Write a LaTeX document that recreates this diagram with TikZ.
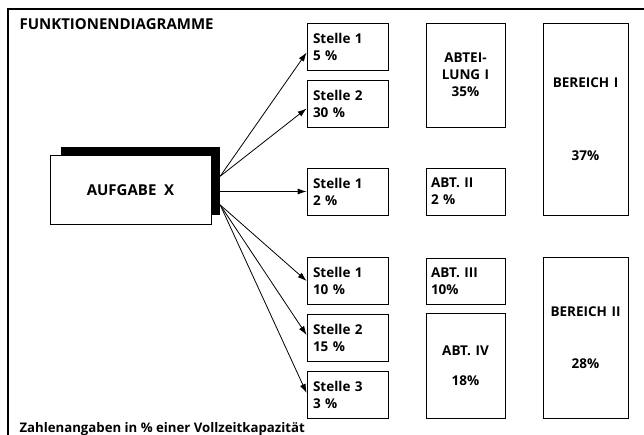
\documentclass[tikz,border=0pt]{standalone}
\usepackage{fontspec}
\setmainfont{Open Sans}
\usetikzlibrary{positioning,calc,arrows.meta}
\tikzset{%
  stellebox/.style={
    draw,
    thick,
    rectangle,
    minimum width=81pt,
    minimum height=47pt,
    text width=69pt,
    inner xsep=6pt,
    align=left
  },
  abtbox/.style={
    draw,
    thick,
    rectangle,
    minimum width=79pt,
    minimum height=47pt,
    text width=69pt,
    inner xsep=5pt,
    align=left
  },
  bereichbox/.style={
    draw,
    thick,
    rectangle,
    minimum width=85pt,
    text width=75pt,
    align=center
  },
}

\begin{document}
\begin{tikzpicture}[x=1pt,y=-1pt,>={Latex[length=9pt,width=6pt]},on grid,node distance=57pt,
    every node/.style={font=\fontsize{13.5}{17}\selectfont\bfseries}]
    \useasboundingbox (0,0) rectangle (644,435);
    % rahmen
    \draw[line width=1.4pt] (8,435) -- (8,9) -- (644,9);
    \node[anchor=base west, font=\fontsize{15}{17}\selectfont\bfseries] (titel) at (16,30) {FUNKTIONENDIAGRAMME};
    \node[anchor=base west, font=\fontsize{13.2}{16}\selectfont\bfseries] (fuss) at (16,432) {Zahlenangaben in \% einer Vollzeitkapazität};

    % aufgabe
    \node[fill=black, minimum width=159pt, minimum height=68pt] (schatten) at (140.5,181) {};
    \node[draw, thick, fill=white, minimum width=161pt, minimum height=69pt,
          font=\fontsize{15}{17}\selectfont\bfseries] (aufgabe) [below left=9pt and 10pt of schatten] {AUFGABE\ \ X};

    % stellen
    \node[stellebox] (s1) at (347.5,46.5) {Stelle 1\\5 \%};
    \node[stellebox] (s2) [below=of s1] {Stelle 2\\30 \%};
    \node[stellebox] (s3) at (347.5,191.5) {Stelle 1\\2 \%};
    \node[stellebox] (s4) at (347.5,281) {Stelle 1\\10 \%};
    \node[stellebox] (s5) [below=of s4] {Stelle 2\\15 \%};
    \node[stellebox] (s6) [below=of s5] {Stelle 3\\3 \%};

    % abteilungen
    \node[abtbox, minimum height=104pt, align=center] (a1) at (465.5,75) {ABTEI-\\LUNG I\\35\%};
    \node[abtbox] (a2) [right=118pt of s3] {ABT. II\\2 \%};
    \node[abtbox, minimum height=46pt] (a3) [right=118pt of s4] {ABT. III\\10\%};
    \node[abtbox, minimum height=105pt, align=center] (a4) at (465.5,365.5) {ABT. IV\\[13pt]18\%};

    % bereiche
    \node[bereichbox, minimum height=192pt] (b1) at (585.5,119) {BEREICH I\\[56pt]37\%};
    \node[bereichbox, minimum height=161pt] (b2) at (585.5,337.5) {BEREICH II\\[35pt]28\%};

    % pfeile
    \coordinate (oben) at ($(schatten.north east)!0.43!(schatten.south east)$);
    \coordinate (unten) at ($(schatten.north east)!0.85!(schatten.south east)$);
    \path[->, thick]
        (oben) edge ($(s1.west)+(0,6)$)
               edge ($(s2.west)+(0,5)$)
        (s3.west -| schatten.east) edge (s3.west)
        (unten) edge (s4.west)
                edge ($(s5.west)+(0,-3)$)
                edge ($(s6.west)+(0,-2)$)
        ;
\end{tikzpicture}
\end{document}
